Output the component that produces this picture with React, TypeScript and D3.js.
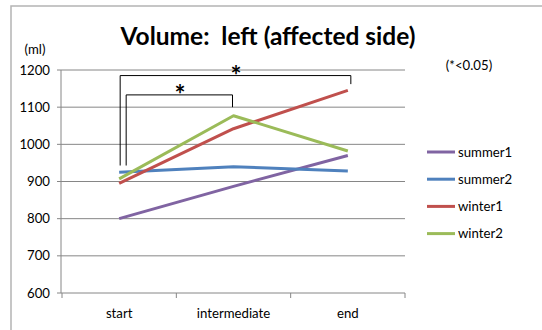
import React from "react";
import * as d3 from "d3";

const categories = ["start", "intermediate", "end"];
const seriesNames = ["summer1", "summer2", "winter1", "winter2"];
const summer1 = [800, 887, 970];
const summer2 = [925, 940, 928];
const winter1 = [895, 1042, 1145];
const winter2 = [907, 1077, 982];
const seriesValues = [summer1, summer2, winter1, winter2];
const seriesColors = ["#8064A2", "#4F81BD", "#C0504D", "#9BBB59"];
const yTicks = [600, 700, 800, 900, 1000, 1100, 1200];

const W = 542;
const H = 330;
const FONT = "Lato, 'Open Sans', sans-serif";
const FS = 13.2;

export default function App() {
  const x = d3.scaleBand<string>().domain(categories).range([62, 405]);
  const y = d3.scaleLinear().domain([600, 1200]).range([293, 70]);
  const cx = (c: string) => (x(c) as number) + x.bandwidth() / 2;
  const line = d3
    .line<number>()
    .x((_, i) => cx(categories[i]))
    .y((v) => y(v));

  const bracketBase = 943;
  const legendY0 = 152;
  const legendStep = 27.2;

  return (
    <svg
      width={W}
      height={H}
      style={{ position: "absolute", left: 0, top: 0 }}
      fontFamily={FONT}
    >
      <rect x={0} y={0} width={W} height={H} fill="#fff" />
      <rect x={11} y={6} width={W + 20} height={H + 20} fill="none" stroke="#b4b4b4" strokeWidth={1.5} />
      <text x={268} y={45} textAnchor="middle" fontSize={24.5} fontWeight="bold" fill="#000" style={{ whiteSpace: "pre" }}>
        {"Volume:  left (affected side)"}
      </text>
      <text x={35} y={54} textAnchor="middle" fontSize={FS} fill="#000">(ml)</text>
      <text x={469} y={70} textAnchor="middle" fontSize={FS} fill="#000">(*&lt;0.05)</text>

      {/* gridlines */}
      {yTicks.map((t) => (
        <line key={t} x1={61} x2={405} y1={y(t)} y2={y(t)} stroke="#868686" strokeWidth={1} />
      ))}
      {/* y axis */}
      <line x1={61} x2={61} y1={y(1200)} y2={y(600)} stroke="#868686" strokeWidth={1} />
      {yTicks.map((t) => (
        <g key={"yt" + t}>
          <line x1={57} x2={61} y1={y(t)} y2={y(t)} stroke="#868686" />
          <text x={50} y={y(t)} dy="0.35em" textAnchor="end" fontSize={FS} fill="#000">
            {t}
          </text>
        </g>
      ))}
      {/* x axis ticks */}
      {[...categories.map((c) => x(c) as number), 405].map((px, i) => (
        <line key={"xt" + i} x1={px} x2={px} y1={y(600)} y2={y(600) + 5} stroke="#868686" />
      ))}
      {categories.map((c) => (
        <text key={c} x={cx(c)} y={318} textAnchor="middle" fontSize={FS} fill="#000">
          {c}
        </text>
      ))}

      {/* series */}
      {seriesValues.map((vals, i) => (
        <path key={seriesNames[i]} d={line(vals) as string} fill="none" stroke={seriesColors[i]} strokeWidth={3} strokeLinejoin="round" />
      ))}

      {/* significance brackets */}
      <path
        d={`M${cx("start") + 1},${y(bracketBase)} V${y(1185)} H${cx("end") + 3} V${y(1162)}`}
        fill="none"
        stroke="#000"
        strokeWidth={1}
      />
      <path
        d={`M${cx("start") + 7},${y(bracketBase)} V${y(1133)} H${cx("intermediate") - 1} V${y(1100)}`}
        fill="none"
        stroke="#000"
        strokeWidth={1}
      />
      <text x={236} y={85} textAnchor="middle" fontSize={26} fontWeight="bold" fill="#000">*</text>
      <text x={180} y={104} textAnchor="middle" fontSize={26} fontWeight="bold" fill="#000">*</text>

      {/* legend */}
      {seriesNames.map((n, i) => (
        <g key={"lg" + n}>
          <line x1={427} x2={455} y1={legendY0 + i * legendStep} y2={legendY0 + i * legendStep} stroke={seriesColors[i]} strokeWidth={3} />
          <text x={458} y={legendY0 + i * legendStep} dy="0.35em" fontSize={FS} fill="#000">
            {n}
          </text>
        </g>
      ))}
    </svg>
  );
}
